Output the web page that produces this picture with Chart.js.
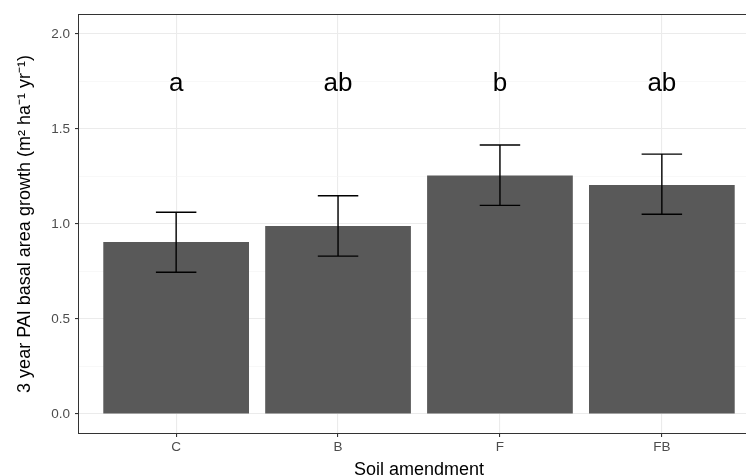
<!DOCTYPE html>
<html>
<head>
<meta charset="utf-8">
<script src="https://cdn.jsdelivr.net/npm/chart.js@4.4.0/dist/chart.umd.min.js"></script>
<style>
  html, body { margin: 0; padding: 0; background: #fff; overflow: hidden; }
  canvas { display: block; }
</style>
</head>
<body>
<canvas id="growthChart" width="760" height="476"></canvas>
<script>
// --- data ---
const categories = ['C', 'B', 'F', 'FB'];
const growth = [0.905, 0.99, 1.255, 1.205];
const errLow = [0.746, 0.831, 1.098, 1.051];
const errHigh = [1.062, 1.149, 1.416, 1.368];
const groupLetters = ['a', 'ab', 'b', 'ab'];
const letterLevel = 1.74;
const yTicks = [0, 0.25, 0.5, 0.75, 1, 1.25, 1.5, 1.75, 2];

const fontFamily = '"Liberation Sans", Arial, Helvetica, sans-serif';
const isMajor = v => Math.abs(v * 2 - Math.round(v * 2)) < 1e-6;

// error bars, group letters and the panel border
const extras = {
    id: 'extras',
    afterDatasetsDraw(chart) {
        const { ctx, chartArea, scales: { x, y } } = chart;
        ctx.save();

        ctx.strokeStyle = '#000';
        ctx.lineWidth = 1.4;
        categories.forEach((c, i) => {
            const cx = x.getPixelForValue(i + 1);
            const hw = x.getPixelForValue(i + 1.125) - cx;
            const top = y.getPixelForValue(errHigh[i]);
            const bot = y.getPixelForValue(errLow[i]);
            ctx.beginPath();
            ctx.moveTo(cx - hw, top); ctx.lineTo(cx + hw, top);
            ctx.moveTo(cx, top); ctx.lineTo(cx, bot);
            ctx.moveTo(cx - hw, bot); ctx.lineTo(cx + hw, bot);
            ctx.stroke();
        });

        ctx.fillStyle = '#000';
        ctx.font = '26px ' + fontFamily;
        ctx.textAlign = 'center';
        ctx.textBaseline = 'middle';
        groupLetters.forEach((t, i) => {
            ctx.fillText(t, x.getPixelForValue(i + 1), y.getPixelForValue(letterLevel));
        });

        ctx.strokeStyle = '#333';
        ctx.lineWidth = 1;
        ctx.strokeRect(chartArea.left - 0.5, chartArea.top - 0.5,
            chartArea.right - chartArea.left + 1, chartArea.bottom - chartArea.top + 1);
        ctx.restore();
    }
};

new Chart(document.getElementById('growthChart'), {
    type: 'bar',
    data: {
        datasets: [{
            data: categories.map((c, i) => ({ x: i + 1, y: growth[i] })),
            backgroundColor: '#595959',
            borderWidth: 0,
            barPercentage: 0.9,
            categoryPercentage: 1
        }]
    },
    options: {
        responsive: false,
        animation: false,
        layout: { padding: { left: 0, right: 1, top: 15, bottom: 0 } },
        plugins: {
            legend: { display: false },
            tooltip: { enabled: false }
        },
        scales: {
            x: {
                type: 'linear',
                min: 0.4,
                max: 4.6,
                offset: false,
                afterBuildTicks: s => { s.ticks = categories.map((c, i) => ({ value: i + 1 })); },
                afterFit: s => { s.height = 43; },
                grid: {
                    offset: false,
                    color: '#ebebeb',
                    lineWidth: 1.1,
                    tickLength: 4,
                    tickColor: '#333'
                },
                border: { display: false },
                ticks: {
                    autoSkip: false,
                    maxRotation: 0,
                    padding: 2,
                    color: '#4d4d4d',
                    font: { family: fontFamily, size: 13.5 },
                    callback: v => categories[v - 1]
                },
                title: {
                    display: true,
                    text: 'Soil amendment',
                    color: '#000',
                    padding: 0,
                    font: { family: fontFamily, size: 18, lineHeight: 0.7 }
                }
            },
            y: {
                min: -0.1,
                max: 2.1,
                afterBuildTicks: s => { s.ticks = yTicks.map(v => ({ value: v })); },
                afterFit: s => { s.width = 79; },
                grid: {
                    color: c => isMajor(c.tick.value) ? '#ebebeb' : '#f4f4f4',
                    lineWidth: c => isMajor(c.tick.value) ? 1.1 : 0.6,
                    tickLength: 4,
                    tickColor: c => isMajor(c.tick.value) ? '#333' : 'rgba(0,0,0,0)'
                },
                border: { display: false },
                ticks: {
                    padding: 5,
                    color: '#4d4d4d',
                    font: { family: fontFamily, size: 13.5 },
                    callback: v => isMajor(v) ? v.toFixed(1) : ''
                },
                title: {
                    display: true,
                    text: '3 year PAI basal area growth (m² ha⁻¹ yr⁻¹)',
                    color: '#000',
                    padding: { top: 16, bottom: 0 },
                    font: { family: fontFamily, size: 18, lineHeight: 1 }
                }
            }
        }
    },
    plugins: [extras]
});
</script>
</body>
</html>
